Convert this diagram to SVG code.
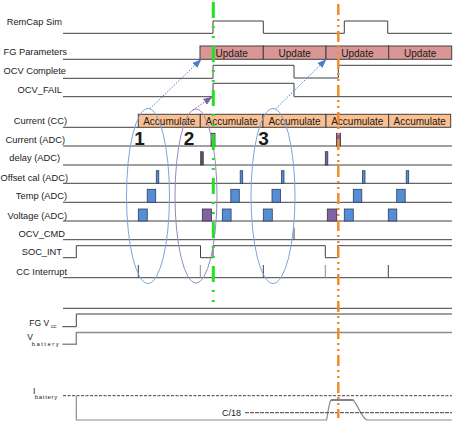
<svg xmlns="http://www.w3.org/2000/svg" width="454" height="423" viewBox="0 0 454 423">
<defs>
<style>
text{font-family:"Liberation Sans",Arial,sans-serif;fill:#1a1a1a}
.lbl{font-size:9.3px;text-anchor:end}
.bt{font-size:10px;text-anchor:middle}
.num{font-size:19px;font-weight:bold;text-anchor:middle}
.sig{fill:none;stroke:#404040;stroke-width:1}
.gry{fill:none;stroke:#8c8c8c;stroke-width:1}
.fg{fill:#d99694;stroke:#404040;stroke-width:1}
.cc{fill:#fac090;stroke:#404040;stroke-width:1}
.pb{fill:#558ed5;stroke:#2b3f5e;stroke-width:0.8}
.pp{fill:#8064a2;stroke:#3b2f4d;stroke-width:0.8}
.pd{fill:#55506a;stroke:#33303f;stroke-width:0.6}
.ellb{fill:none;stroke:#7ba3e0;stroke-width:1}
.ellp{fill:none;stroke:#9b86c0;stroke-width:1}
</style>
<marker id="ahb" markerWidth="9" markerHeight="7" refX="8.5" refY="3.5" orient="auto" markerUnits="userSpaceOnUse"><path d="M0,0 L9,3.5 L0,7 z" fill="#4a7fd0"/></marker>
<marker id="ahp" markerWidth="9" markerHeight="7" refX="8.5" refY="3.5" orient="auto" markerUnits="userSpaceOnUse"><path d="M0,0 L9,3.5 L0,7 z" fill="#7a60a8"/></marker>
</defs>
<rect width="454" height="423" fill="#ffffff"/>

<g id="remcap">
<text class="lbl" x="62" y="25.3">RemCap Sim</text>
<path class="sig" d="M63,33.3 H213 V21 H263.3 V33.3 H344.3 V21 H387.7 V33.3 H452"/>
</g>
<g id="fgparams">
<text class="lbl" x="67" y="55">FG Parameters</text>
<path class="sig" d="M63,59.3 H200"/>
<rect class="fg" x="200" y="46" width="63.3" height="13.3"/>
<rect class="fg" x="263.3" y="46" width="62.7" height="13.3"/>
<rect class="fg" x="326" y="46" width="62.7" height="13.3"/>
<rect class="fg" x="388.7" y="46" width="63" height="13.3"/>
<text class="bt" x="231.7" y="56.5">Update</text>
<text class="bt" x="294.7" y="56.5">Update</text>
<text class="bt" x="357.4" y="56.5">Update</text>
<text class="bt" x="420.2" y="56.5">Update</text>
</g>
<g id="ocvcomplete">
<text class="lbl" x="66" y="74">OCV Complete</text>
<path class="sig" d="M63,78.3 H213 V65.3 H294 V78 H338.3 V65.3 H452"/>
</g>
<g id="ocvfail">
<text class="lbl" x="62" y="93.3">OCV_FAIL</text>
<path class="sig" d="M63,96.7 H213 V83.3 H294 V96.7 H452"/>
</g>
<g id="currentcc">
<text class="lbl" x="67" y="124">Current (CC)</text>
<path class="sig" d="M63,127.3 H138.3"/>
<rect class="cc" x="138.3" y="114.3" width="62" height="13"/>
<rect class="cc" x="200.3" y="114.3" width="62.7" height="13"/>
<rect class="cc" x="263" y="114.3" width="63" height="13"/>
<rect class="cc" x="326" y="114.3" width="62.7" height="13"/>
<rect class="cc" x="388.7" y="114.3" width="62" height="13"/>
<text class="bt" x="169.3" y="124.5">Accumulate</text>
<text class="bt" x="231.6" y="124.5">Accumulate</text>
<text class="bt" x="294.5" y="124.5">Accumulate</text>
<text class="bt" x="357.3" y="124.5">Accumulate</text>
<text class="bt" x="419.7" y="124.5">Accumulate</text>
</g>
<g id="currentadc">
<text class="lbl" x="65" y="143.3">Current (ADC)</text>
<path class="sig" d="M63,146 H452"/>
<rect class="pp" x="211" y="133.3" width="4" height="12.7"/>
<rect class="pp" x="336.5" y="133.3" width="4" height="12.7"/>
</g>
<g id="delayadc">
<text class="lbl" x="60" y="160.6">delay (ADC)</text>
<path class="sig" d="M63,165 H452"/>
<rect class="pd" x="200.5" y="151.7" width="2.8" height="13.3"/>
<rect class="pp" x="325.3" y="151.7" width="2.5" height="13.3"/>
</g>
<g id="offsetadc">
<text class="lbl" x="68" y="181">Offset cal (ADC)</text>
<path class="sig" d="M63,183.3 H452"/>
<rect class="pb" x="156.3" y="170.7" width="2.5" height="12.6"/>
<rect class="pb" x="240.2" y="170.7" width="2.5" height="12.6"/>
<rect class="pb" x="281.5" y="170.7" width="2.5" height="12.6"/>
<rect class="pb" x="362.5" y="170.7" width="2.5" height="12.6"/>
<rect class="pb" x="406.2" y="170.7" width="2.5" height="12.6"/>
</g>
<g id="tempadc">
<text class="lbl" x="67" y="199.3">Temp (ADC)</text>
<path class="sig" d="M63,202.3 H452"/>
<rect class="pb" x="147.2" y="189.3" width="8.5" height="13"/>
<rect class="pb" x="230.8" y="189.3" width="8.5" height="13"/>
<rect class="pb" x="272" y="189.3" width="8.5" height="13"/>
<rect class="pb" x="353.3" y="189.3" width="8.5" height="13"/>
<rect class="pb" x="396.7" y="189.3" width="8.5" height="13"/>
</g>
<g id="voltageadc">
<text class="lbl" x="67" y="219">Voltage (ADC)</text>
<path class="sig" d="M63,221 H452"/>
<rect class="pb" x="138.3" y="209" width="9" height="12"/>
<rect class="pp" x="202.3" y="209" width="9.2" height="12"/>
<rect class="pb" x="222.3" y="209" width="8.8" height="12"/>
<rect class="pb" x="263.3" y="209" width="9" height="12"/>
<rect class="pp" x="327.3" y="209" width="9.4" height="12"/>
<rect class="pb" x="344.3" y="209" width="9" height="12"/>
<rect class="pb" x="388.3" y="209" width="8.5" height="12"/>
</g>
<g id="ocvcmd">
<text class="lbl" x="65" y="236.6">OCV_CMD</text>
<path class="sig" d="M63,239.7 H452 M294,227.7 V239.7"/>
</g>
<g id="socint">
<text class="lbl" x="62" y="255">SOC_INT</text>
<path class="sig" d="M63,257.7 H76.3 V245.7 H200.5 V257.7 H213 V245.7 H325.3 V257.7 H337.7 V245.7 H452"/>
</g>
<g id="ccint">
<text class="lbl" x="67" y="275">CC Interrupt</text>
<path class="sig" d="M63,277.7 H452 M138.3,265 V277.7 M263.3,265 V277.7 M388.3,265 V277.7"/>
<path class="gry" d="M200.3,265 V277.7 M325.3,265 V277.7"/>
</g>
<g id="blank">
<path class="sig" d="M63,308.3 H452"/>
</g>
<g id="fgvcc">
<text x="29.3" y="325.5" font-size="8.5">FG V</text>
<text x="51" y="327.5" font-size="5.5">cc</text>
<path class="sig" d="M62.3,326.7 H76.3 V314 H452"/>
</g>
<g id="vbattery">
<text x="27.3" y="339.5" font-size="8.5">V</text>
<text x="31.7" y="346" font-size="6" textLength="27" lengthAdjust="spacing">battery</text>
<path d="M62.3,344.3 H76.3 V332.5 H452" fill="none" stroke="#8c8c8c" stroke-width="1.5"/>
</g>
<g id="ibattery">
<text x="33" y="394" font-size="8.5">I</text>
<text x="34.7" y="398.5" font-size="6" textLength="22.6" lengthAdjust="spacing">battery</text>
<path class="sig" d="M63,395.7 H452" stroke-dasharray="3 1.5"/>
<path d="M76.3,395.7 V420 H326.5 C328,414 329,402 331,400 H353.3 C357,404 362,418 366.7,420 H452" fill="none" stroke="#8c8c8c" stroke-width="1.2"/>
<path d="M331,400 H353.3" fill="none" stroke="#404040" stroke-width="1"/>
<text x="222" y="416" font-size="9">C/18</text>
<path class="sig" d="M245,412.7 H452" stroke-dasharray="4 1"/>
</g>

<g id="ellipses">
<ellipse class="ellb" cx="148" cy="196" rx="21.5" ry="87.5"/>
<ellipse class="ellp" cx="196" cy="196" rx="21" ry="87"/>
<ellipse class="ellb" cx="273" cy="196" rx="22" ry="87.5"/>
<text class="num" x="139.5" y="145">1</text>
<text class="num" x="189" y="145">2</text>
<text class="num" x="263.5" y="145">3</text>
</g>

<g id="connectors">
<path d="M150,108.5 L201,59.5" fill="none" stroke="#4a7fd0" stroke-width="1" stroke-dasharray="1.5 1.5" marker-end="url(#ahb)"/>
<path d="M193,110 L212,97" fill="none" stroke="#7a60a8" stroke-width="1" stroke-dasharray="1.5 1.5" marker-end="url(#ahp)"/>
<path d="M276,108.5 L326,59.5" fill="none" stroke="#4a7fd0" stroke-width="1" stroke-dasharray="1.5 1.5" marker-end="url(#ahb)"/>
</g>

<g id="markers">
<path d="M213.3,2 V302" fill="none" stroke="#22e322" stroke-width="3" stroke-dasharray="16 8 2 8 2 8"/>
<path d="M338.3,4 V418" fill="none" stroke="#f28c28" stroke-width="2.5" stroke-dasharray="11 4 2 4 2 4"/>
</g>
</svg>
